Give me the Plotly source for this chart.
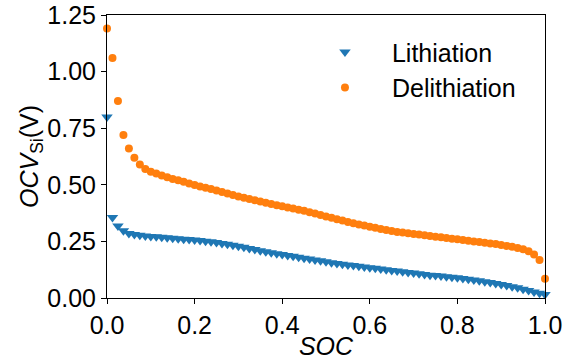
import plotly.graph_objects as go

soc = [0.0, 0.0125, 0.025, 0.0375, 0.05, 0.0625, 0.075, 0.0875, 0.1, 0.1125,
       0.125, 0.1375, 0.15, 0.1625, 0.175, 0.1875, 0.2, 0.2125, 0.225, 0.2375,
       0.25, 0.2625, 0.275, 0.2875, 0.3, 0.3125, 0.325, 0.3375, 0.35, 0.3625,
       0.375, 0.3875, 0.4, 0.4125, 0.425, 0.4375, 0.45, 0.4625, 0.475, 0.4875,
       0.5, 0.5125, 0.525, 0.5375, 0.55, 0.5625, 0.575, 0.5875, 0.6, 0.6125,
       0.625, 0.6375, 0.65, 0.6625, 0.675, 0.6875, 0.7, 0.7125, 0.725, 0.7375,
       0.75, 0.7625, 0.775, 0.7875, 0.8, 0.8125, 0.825, 0.8375, 0.85, 0.8625,
       0.875, 0.8875, 0.9, 0.9125, 0.925, 0.9375, 0.95, 0.9625, 0.975, 0.9875,
       1.0]

ocv_lithiation = [0.80, 0.356, 0.318, 0.297, 0.285, 0.280, 0.277, 0.274, 0.272, 0.270,
                  0.268, 0.266, 0.264, 0.262, 0.260, 0.258, 0.256, 0.254, 0.251, 0.248,
                  0.245, 0.241, 0.237, 0.233, 0.229, 0.224, 0.219, 0.214, 0.209, 0.204,
                  0.200, 0.196, 0.192, 0.188, 0.184, 0.180, 0.176, 0.172, 0.168, 0.164,
                  0.160, 0.156, 0.152, 0.149, 0.146, 0.143, 0.140, 0.137, 0.134, 0.131,
                  0.128, 0.125, 0.122, 0.119, 0.116, 0.113, 0.110, 0.107, 0.104, 0.101,
                  0.099, 0.097, 0.094, 0.092, 0.089, 0.086, 0.083, 0.080, 0.076, 0.072,
                  0.068, 0.064, 0.060, 0.055, 0.050, 0.045, 0.039, 0.033, 0.027, 0.021,
                  0.015]

ocv_delithiation = [1.19, 1.06, 0.87, 0.72, 0.66, 0.62, 0.59, 0.57, 0.558, 0.550,
                    0.541, 0.533, 0.526, 0.520, 0.513, 0.506, 0.499, 0.493, 0.487, 0.481,
                    0.475, 0.468, 0.462, 0.455, 0.448, 0.443, 0.437, 0.432, 0.426, 0.421,
                    0.415, 0.410, 0.405, 0.400, 0.395, 0.390, 0.385, 0.379, 0.373, 0.367,
                    0.360, 0.354, 0.348, 0.342, 0.336, 0.330, 0.325, 0.320, 0.315, 0.310,
                    0.305, 0.300, 0.296, 0.292, 0.289, 0.286, 0.283, 0.280, 0.277, 0.274,
                    0.271, 0.268, 0.265, 0.262, 0.259, 0.256, 0.253, 0.250, 0.247, 0.244,
                    0.241, 0.238, 0.234, 0.230, 0.226, 0.221, 0.215, 0.206, 0.192, 0.168,
                    0.085]

x_ticks = [0.0, 0.2, 0.4, 0.6, 0.8, 1.0]
y_ticks = [0.0, 0.25, 0.5, 0.75, 1.0, 1.25]

FONT = "Liberation Sans, Arial, sans-serif"

fig = go.Figure()
fig.add_trace(go.Scatter(
    x=soc, y=ocv_lithiation, mode="markers", name="Lithiation",
    marker=dict(symbol="triangle-down", size=10, color="#1f77b4"),
    cliponaxis=False,
))
fig.add_trace(go.Scatter(
    x=soc, y=ocv_delithiation, mode="markers", name="Delithiation",
    marker=dict(symbol="circle", size=8, color="#ff7f0e"),
    cliponaxis=False,
))

axis_common = dict(
    showgrid=False, zeroline=False, showline=True, linecolor="black",
    linewidth=1, mirror=True, ticks="outside", ticklen=5, tickwidth=1,
    tickcolor="black", tickfont=dict(family=FONT, size=25, color="black"),
)

fig.update_xaxes(
    range=[0, 1.0], tickvals=x_ticks, tickformat=".1f",
    title=dict(text="<i>SOC</i>", font=dict(family=FONT, size=25, color="black"), standoff=2),
    **axis_common,
)
fig.update_yaxes(
    range=[0, 1.25], tickvals=y_ticks, tickformat=".2f",
    title=dict(text="<i>OCV</i><sub>Si</sub>(V)", font=dict(family=FONT, size=25, color="black"), standoff=1),
    **axis_common,
)

fig.update_layout(
    width=585, height=360,
    margin=dict(l=107, r=40, t=15, b=62, autoexpand=False),
    plot_bgcolor="white", paper_bgcolor="white",
    font=dict(family=FONT, size=25, color="black"),
    showlegend=True,
    legend=dict(
        x=0.436, y=0.95, xanchor="left", yanchor="top",
        bgcolor="rgba(0,0,0,0)", borderwidth=0,
        font=dict(family=FONT, size=25, color="black"),
        itemwidth=84,
    ),
)

fig.write_html("out.html", config={"displayModeBar": False},
               post_script="document.body.style.margin='0';")
